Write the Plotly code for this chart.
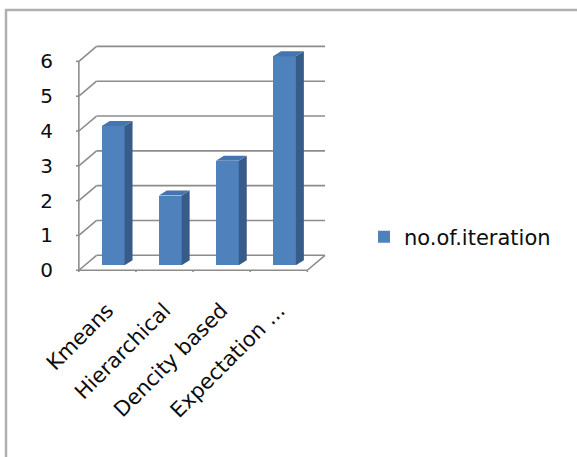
import plotly.graph_objects as go

# ---- data ----
categories = ["Kmeans", "Hierarchical", "Dencity based", "Expectation ..."]
values = [4, 2, 3, 6]
y_ticks = [0, 1, 2, 3, 4, 5, 6]
series_name = "no.of.iteration"

# ---- geometry / style ----
W, H = 577, 457
ML, MR, MT, MB = 76, 248, 45, 185
XR = [-0.55, 3.88]
YR = [-0.05, 6.47]
DX, DY = 0.31, 0.43          # wall depth offset (data units)
BX0, BY0 = 0.10, 0.144       # bar front-face offset
BW = 0.40                    # bar width
BDX, BDY = 0.14, 0.144       # bar depth
GRID = "#8c8c8c"
FRONT, SIDE, TOP = "#4F81BD", "#385C89", "#4674AE"
FONT = "DejaVu Sans"
TXT = "#0d0d0d"

n = len(categories)
x0, x1 = -0.5, n - 0.5
ymax = max(y_ticks)

fig = go.Figure()

shapes = []
def seg(xa, ya, xb, yb, w=1.6, color=GRID):
    shapes.append(dict(type="line", xref="x", yref="y", x0=xa, y0=ya, x1=xb, y1=yb,
                       line=dict(color=color, width=w), layer="below"))

# back wall gridlines + left wall diagonals
for t in y_ticks:
    seg(x0, t, x0 + DX, t + DY)
    seg(x0 + DX, t + DY, x1 + DX, t + DY)
# floor front edge, right diagonal, y axis line
seg(x0, 0, x1, 0)
seg(x1, 0, x1 + DX, DY)
seg(x0, 0, x0, ymax)
# y tick marks
px_per_x = (W - ML - MR) / (XR[1] - XR[0])
px_per_y = (H - MT - MB) / (YR[1] - YR[0])
for t in y_ticks:
    seg(x0 - 6 / px_per_x, t, x0, t)
# x tick marks at category boundaries
for b in range(n + 1):
    seg(b - 0.5, 0, b - 0.5, -7 / px_per_y)

# front faces (bars)
fig.add_trace(go.Bar(
    x=[i + BX0 for i in range(n)], y=values, base=[BY0] * n, width=BW,
    marker=dict(color=FRONT, line=dict(width=0)), name=series_name, showlegend=True,
    hoverinfo="skip"))

# side and top faces
for i, v in enumerate(values):
    xl = i + BX0 - BW / 2
    xr = i + BX0 + BW / 2
    fig.add_trace(go.Scatter(
        x=[xr, xr + BDX, xr + BDX, xr, xr],
        y=[BY0, BY0 + BDY, BY0 + v + BDY, BY0 + v, BY0],
        fill="toself", fillcolor=SIDE, mode="lines", line=dict(width=0, color=SIDE),
        showlegend=False, hoverinfo="skip"))
    fig.add_trace(go.Scatter(
        x=[xl, xr, xr + BDX, xl + BDX, xl],
        y=[BY0 + v, BY0 + v, BY0 + v + BDY, BY0 + v + BDY, BY0 + v],
        fill="toself", fillcolor=TOP, mode="lines", line=dict(width=0, color=TOP),
        showlegend=False, hoverinfo="skip"))

# chart border (top and left)
pw, ph = W - ML - MR, H - MT - MB
def px2x(p): return (p - ML) / pw
def py2y(p): return 1 - (p - MT) / ph
shapes.append(dict(type="line", xref="paper", yref="paper",
                   x0=px2x(5), y0=py2y(10), x1=px2x(W + 5), y1=py2y(10),
                   line=dict(color="#b0b0b0", width=2.5)))
shapes.append(dict(type="line", xref="paper", yref="paper",
                   x0=px2x(6), y0=py2y(9), x1=px2x(6), y1=py2y(H + 5),
                   line=dict(color="#b0b0b0", width=2.5)))

fig.update_layout(
    width=W, height=H,
    margin=dict(l=ML, r=MR, t=MT, b=MB),
    paper_bgcolor="white", plot_bgcolor="white",
    shapes=shapes,
    font=dict(family=FONT, size=21, color=TXT),
    xaxis=dict(range=XR, showgrid=False, zeroline=False, showline=False,
               tickmode="array", tickvals=list(range(n)), ticktext=categories,
               tickangle=-45, ticks="", ticklabelstandoff=21,
               tickfont=dict(family=FONT, size=21, color=TXT)),
    yaxis=dict(range=YR, showgrid=False, zeroline=False, showline=False,
               tickmode="array", tickvals=y_ticks, ticks="", ticklabelstandoff=22,
               tickfont=dict(family=FONT, size=20, color=TXT)),
    legend=dict(xref="container", yref="container", x=364 / W, y=1 - 237 / H,
                xanchor="left", yanchor="middle", bgcolor="rgba(0,0,0,0)",
                font=dict(family=FONT, size=21, color=TXT)),
    bargap=0,
)

fig.write_html("out.html")
